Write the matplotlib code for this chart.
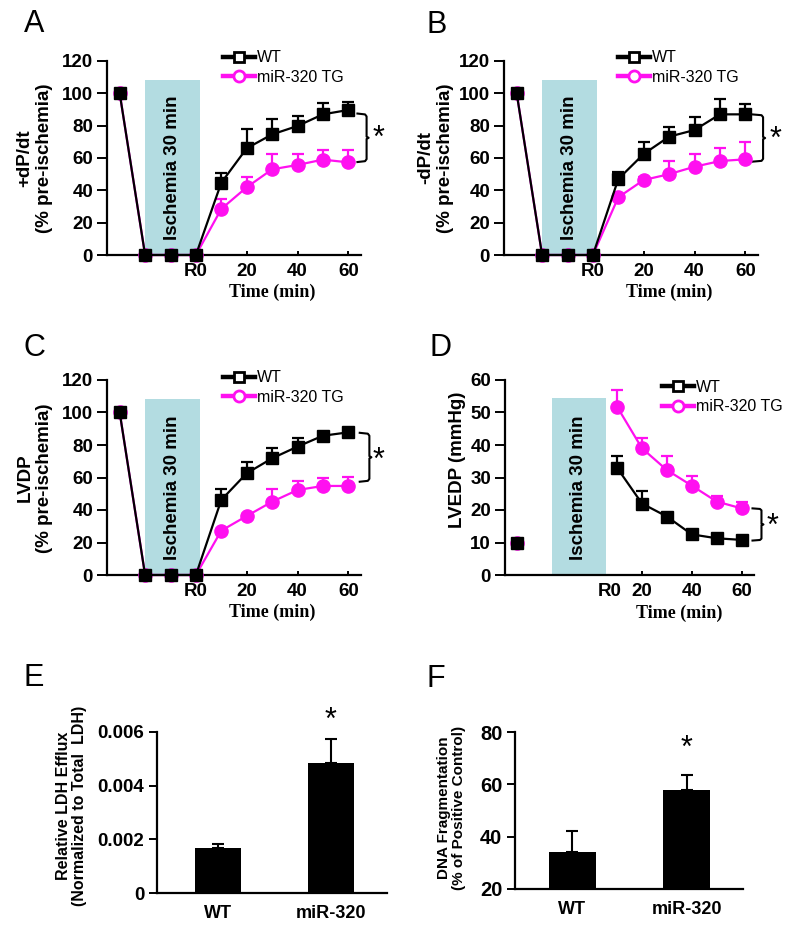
import matplotlib
matplotlib.use("Agg")
import matplotlib.pyplot as plt
from matplotlib.lines import Line2D
from matplotlib.patches import Rectangle
import matplotlib.transforms as mtransforms
import numpy as np

plt.rcParams['font.family'] = ['Liberation Sans', 'DejaVu Sans']

# ---------------- data ----------------
time_pts = [-30, -20, -10, 0, 10, 20, 30, 40, 50, 60]
post_pts = [10, 20, 30, 40, 50, 60]

a_wt = [100, 0, 0, 0, 44.7, 66, 74.6, 79.8, 87, 89.7]
a_wt_err = [0, 0, 0, 0, 6.3, 11.7, 9.4, 6.2, 7, 5.1]
a_tg = [100, 0, 0, 0, 28.5, 41.9, 53, 55.7, 59, 57.3]
a_tg_err = [0, 0, 0, 0, 6.1, 6.6, 9.5, 6.8, 6, 7.7]

b_wt = [100, 0, 0, 0, 47, 62.5, 73.2, 77.3, 87, 87]
b_wt_err = [0, 0, 0, 0, 4.5, 7.2, 6.2, 8.3, 9.5, 6.4]
b_tg = [100, 0, 0, 0, 35.7, 46.4, 50, 54.6, 58.1, 59.2]
b_tg_err = [0, 0, 0, 0, 1.5, 1.6, 8.4, 7.7, 7.9, 10.9]

c_wt = [100, 0, 0, 0, 46.2, 62.6, 71.8, 79, 85.7, 87.8]
c_wt_err = [0, 0, 0, 0, 6.7, 7.1, 6.1, 5.5, 2.5, 1.2]
c_tg = [100, 0, 0, 0, 27.3, 36.3, 45.1, 52.3, 54.8, 54.8]
c_tg_err = [0, 0, 0, 0, 1.0, 1.0, 7.6, 5.7, 4.7, 5.3]

d_pre_wt = 9.7
d_pre_tg = 10.0
d_wt = [33, 22, 18, 12.5, 11.3, 10.8]
d_wt_err = [3.7, 3.8, 0.8, 0.5, 0.5, 0.5]
d_tg = [51.8, 39, 32.3, 27.5, 22.6, 20.5]
d_tg_err = [5.1, 3.3, 4.4, 3.1, 1.7, 2.1]

bar_groups = ['WT', 'miR-320']
e_vals = [0.00166, 0.00484]
e_err = [0.00018, 0.00091]
f_vals = [34.1, 57.7]
f_err = [7.9, 5.7]

# ---------------- style ----------------
W, H = 800, 931
MAG = '#FF10F0'
BOX = '#B3DCE1'
TICK_FS = 13.5
fig = plt.figure(figsize=(W / 100, H / 100), dpi=100)


def px_axes(l, t, r, b):
    return fig.add_axes([l / W, 1 - b / H, (r - l) / W, (b - t) / H])


def style(ax):
    for s in ['top', 'right']:
        ax.spines[s].set_visible(False)
    for s in ['left', 'bottom']:
        ax.spines[s].set_linewidth(1.6)
    ax.tick_params(axis='y', direction='out', length=7, width=1.4, pad=3,
                   labelsize=TICK_FS)
    ax.tick_params(axis='x', direction='in', length=3, width=1.4, pad=6,
                   labelsize=TICK_FS)
    for lab in ax.get_xticklabels() + ax.get_yticklabels():
        lab.set_fontweight('bold')


def bracket(ax, x0, x1, ytop, ybot):
    ymid = (ytop + ybot) / 2
    xs = [x0, x1 - 0.6, x1, x1, x1 + 0.8, x1, x1, x1 - 0.6, x0]
    h = (ytop - ybot) * 0.06
    ys = [ytop, ytop - h * 0.3, ytop - h, ymid + h * 0.4, ymid,
          ymid - h * 0.4, ybot + h, ybot + h * 0.3, ybot]
    ax.plot(xs, ys, color='black', lw=1.5, clip_on=False,
            solid_joinstyle='round')


def legend(ax, x_px, y_mid_px):
    handles = [
        Line2D([], [], color='black', lw=3.2, marker='s', ms=7.5, mfc='white',
               mec='black', mew=2),
        Line2D([], [], color=MAG, lw=3.2, marker='o', ms=8, mfc='white',
               mec=MAG, mew=2),
    ]
    ax.legend(handles, ['WT', 'miR-320 TG'], loc='center left',
              bbox_to_anchor=(x_px / W, 1 - y_mid_px / H),
              bbox_transform=fig.transFigure, frameon=False, fontsize=11.5,
              borderpad=0, borderaxespad=0, handlelength=2.0,
              handletextpad=0.15, labelspacing=0.3)


def line_panel(ax, wt, wt_err, tg, tg_err, star_y, brk):
    ax.add_patch(Rectangle((-20, 0), 21.5, 108.5, color=BOX, lw=0, zorder=0))
    ax.text(-9.25, 54, 'Ischemia 30 min', rotation=90, ha='center',
            va='center', fontsize=13.5, fontweight='bold', zorder=1)
    ax.errorbar(time_pts, tg, yerr=[np.zeros(len(tg)), tg_err], color=MAG,
                lw=1.6, marker='o', ms=9.5, mfc=MAG, mec=MAG, ecolor=MAG,
                elinewidth=1.6, capsize=4, capthick=1.6, zorder=3,
                clip_on=False)
    ax.errorbar(time_pts, wt, yerr=[np.zeros(len(wt)), wt_err],
                color='black', lw=1.6, marker='s', ms=8, mfc='black',
                mec='black', ecolor='black', elinewidth=1.6, capsize=4,
                capthick=1.6, zorder=4, clip_on=False)
    ax.set_xlim(-35, 65)
    ax.set_ylim(0, 120)
    ax.set_yticks([0, 20, 40, 60, 80, 100, 120])
    ax.set_xticks([0, 20, 40, 60])
    ax.set_xticklabels(['R0', '20', '40', '60'])
    style(ax)
    ax.get_xaxis().majorTicks[0].tick1line.set_visible(False)
    trans = mtransforms.blended_transform_factory(ax.transData, ax.transAxes)
    ax.text(30, -0.19, 'Time (min)', transform=trans, ha='center',
            va='center', fontsize=13, fontweight='bold',
            family='Liberation Serif')
    bracket(ax, brk[0], brk[1], brk[2], brk[3])
    ax.text(72, star_y, '*', ha='center', va='center', fontsize=22,
            clip_on=False)


# Panel A
axA = px_axes(107, 61, 361, 255)
line_panel(axA, a_wt, a_wt_err, a_tg, a_tg_err, 72, (63.6, 67.2, 87.5, 57.5))
fig.text(35 / W, 1 - 158 / H, '+dP/dt\n(% pre-ischemia)', rotation=90,
         ha='center', va='center', fontsize=13.5, fontweight='bold',
         multialignment='center', linespacing=1.2)
legend(axA, 223, 67.5)

# Panel B
axB = px_axes(504, 61, 758, 255)
line_panel(axB, b_wt, b_wt_err, b_tg, b_tg_err, 71, (62.5, 67, 87, 57.7))
fig.text(436 / W, 1 - 158 / H, '-dP/dt\n(% pre-ischemia)', rotation=90,
         ha='center', va='center', fontsize=13.5, fontweight='bold',
         multialignment='center', linespacing=1.2)
legend(axB, 618, 67.5)

# Panel C
axC = px_axes(107, 380, 361, 575)
line_panel(axC, c_wt, c_wt_err, c_tg, c_tg_err, 70.5, (64.5, 68.3, 87.5, 57.4))
fig.text(35 / W, 1 - 478 / H, 'LVDP\n(% pre-ischemia)', rotation=90,
         ha='center', va='center', fontsize=13.5, fontweight='bold',
         multialignment='center', linespacing=1.2)
legend(axC, 223, 387.5)

# Panel D
axD = px_axes(505, 380, 754, 575)
axD.add_patch(Rectangle((-16.3, 0), 22, 54.4, color=BOX, lw=0, zorder=0))
axD.text(-5.3, 27, 'Ischemia 30 min', rotation=90, ha='center',
         va='center', fontsize=13.5, fontweight='bold', zorder=1)
axD.errorbar(post_pts, d_tg, yerr=[np.zeros(6), d_tg_err], color=MAG, lw=1.6,
             marker='o', ms=9.5, mfc=MAG, mec=MAG, ecolor=MAG, elinewidth=1.6,
             capsize=4, capthick=1.6, zorder=3)
axD.plot([-30], [d_pre_tg], marker='o', ms=9.5, color=MAG, zorder=3)
axD.errorbar(post_pts, d_wt, yerr=[np.zeros(6), d_wt_err], color='black',
             lw=1.6, marker='s', ms=8, mfc='black', mec='black',
             ecolor='black', elinewidth=1.6, capsize=4, capthick=1.6,
             zorder=4)
axD.plot([-30], [d_pre_wt], marker='s', ms=8, color='black', zorder=4)
axD.set_xlim(-35, 65)
axD.set_ylim(0, 60)
axD.set_yticks([0, 10, 20, 30, 40, 50, 60])
axD.set_xticks([7, 20, 40, 60])
axD.set_xticklabels(['R0', '20', '40', '60'])
style(axD)
axD.get_xaxis().majorTicks[0].tick1line.set_visible(False)
transD = mtransforms.blended_transform_factory(axD.transData, axD.transAxes)
axD.text(35, -0.195, 'Time (min)', transform=transD, ha='center', va='center',
         fontsize=13, fontweight='bold', family='Liberation Serif')
bracket(axD, 64.4, 68, 20.5, 10.6)
axD.text(72.4, 14.7, '*', ha='center', va='center', fontsize=22, clip_on=False)
fig.text(457 / W, 1 - 460 / H, 'LVEDP (mmHg)', rotation=90, ha='center',
         va='center', fontsize=13.5, fontweight='bold')
legend(axD, 662, 397)

# Panel E
axE = px_axes(157, 732, 387, 893)
axE.bar([0, 1], e_vals, width=0.41, color='black', zorder=2)
axE.errorbar([0, 1], e_vals, yerr=[[0, 0], e_err], fmt='none', ecolor='black',
             elinewidth=1.5, capsize=4, capthick=1.5, zorder=1)
axE.set_xlim(-0.54, 1.5)
axE.set_ylim(0, 0.006)
axE.set_yticks([0, 0.002, 0.004, 0.006])
axE.set_yticklabels(['0', '0.002', '0.004', '0.006'])
axE.set_xticks([0, 1])
axE.set_xticklabels(bar_groups)
style(axE)
axE.tick_params(axis='y', length=6, labelsize=13.5)
axE.tick_params(axis='x', length=0, pad=9, labelsize=13)
for lab in axE.get_xticklabels() + axE.get_yticklabels():
    lab.set_fontweight('bold')
axE.text(1, 0.0064, '*', ha='center', va='center', fontsize=22, clip_on=False)
fig.text(71.5 / W, 1 - 806 / H, 'Relative LDH Efflux\n(Normalized to Total  LDH)',
         rotation=90, ha='center', va='center', fontsize=11.5,
         fontweight='bold', multialignment='center', linespacing=1.1)

# Panel F
axF = px_axes(515, 732, 743, 889)
axF.bar([0, 1], [v - 20 for v in f_vals], bottom=20, width=0.41,
        color='black', zorder=2)
axF.errorbar([0, 1], f_vals, yerr=[[0, 0], f_err], fmt='none', ecolor='black',
             elinewidth=1.5, capsize=4, capthick=1.5, zorder=1)
axF.set_xlim(-0.5, 1.49)
axF.set_ylim(20, 80)
axF.set_yticks([20, 40, 60, 80])
axF.set_xticks([0, 1])
axF.set_xticklabels(bar_groups)
style(axF)
axF.tick_params(axis='y', length=6, labelsize=14.5)
axF.tick_params(axis='x', length=0, pad=9, labelsize=13)
for lab in axF.get_xticklabels() + axF.get_yticklabels():
    lab.set_fontweight('bold')
axF.text(1, 73.5, '*', ha='center', va='center', fontsize=22, clip_on=False)
fig.text(451.5 / W, 1 - 808 / H, 'DNA Fragmentation\n(% of Positive Control)',
         rotation=90, ha='center', va='center', fontsize=11,
         fontweight='bold', multialignment='center', linespacing=1.1)

# Panel letters
for lt, (x, y) in zip('ABCDEF', [(34, 24), (437, 25), (34, 348), (440, 348),
                                (34, 678), (436, 679)]):
    fig.text(x / W, 1 - y / H, lt, ha='center', va='center', fontsize=22)

fig.savefig('out.png', dpi=100)
